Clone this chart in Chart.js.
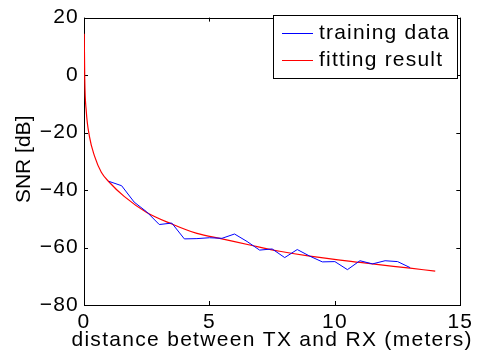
<!DOCTYPE html>
<html>
<head>
<meta charset="utf-8">
<script src="https://cdn.jsdelivr.net/npm/chart.js@4.4.0/dist/chart.umd.min.js"></script>
<style>
  html, body { margin: 0; padding: 0; background: #fff; }
  #wrap { width: 477px; height: 362px; }
</style>
</head>
<body>
<div id="wrap"><canvas id="snrChart" width="477" height="362"></canvas></div>
<script>
// Datos
const trainX = [1, 1.5, 2, 2.5, 3, 3.5, 4, 4.5, 5, 5.5, 6, 6.5, 7, 7.5, 8, 8.5, 9, 9.5, 10, 10.5, 11, 11.5, 12, 12.5, 13];
const trainSNR = [-37.0, -38.5, -44.2, -47.6, -52.0, -51.5, -57.0, -56.9, -56.6, -56.8, -55.3, -57.9, -60.9, -60.5, -63.5, -60.7, -63.0, -65.0, -64.9, -67.7, -64.6, -65.7, -64.6, -64.9, -67.0];

const fitX = [0.01, 0.03, 0.09, 0.22, 0.42, 0.69, 1.0, 1.6, 2.5, 3.5, 4.5, 5.5, 6.7, 7.8, 9.0, 11.0, 13.0, 14.0];
const fitSNR = [14.4, -1.3, -12.5, -21.5, -28.2, -33.8, -37.2, -42.2, -47.8, -51.8, -55.1, -57.0, -59.3, -61.3, -63.0, -65.2, -67.2, -68.2];

const xTicks = [0, 5, 10, 15];
const yTicks = [-80, -60, -40, -20, 0, 20];

const xTitle = 'distance between TX and RX (meters)';
const yTitle = 'SNR [dB]';

const FONT = 'Liberation Sans, Arial, Helvetica, sans-serif';
const FSIZE = 21;
const SPACING = '1.2px'; // el texto del original es más ancho que Arial

// Convertir a puntos {x, y}
const toPoints = (xs, ys) => xs.map((x, i) => ({ x: x, y: ys[i] }));

// Caja del área de trazado, marcas hacia dentro, títulos y leyenda estilo MATLAB
const matlabBox = {
    id: 'matlabBox',
    beforeDraw(chart) {
        chart.ctx.letterSpacing = SPACING;
    },
    beforeDatasetsDraw(chart) {
        const { ctx, chartArea: a, scales } = chart;
        ctx.save();
        ctx.strokeStyle = '#000';
        ctx.lineWidth = 1;
        ctx.strokeRect(Math.round(a.left) + 0.5, Math.round(a.top) + 0.5,
            Math.round(a.right - a.left), Math.round(a.bottom - a.top));

        const tl = 4;
        ctx.beginPath();
        xTicks.forEach(v => {
            const px = Math.round(scales.x.getPixelForValue(v)) + 0.5;
            ctx.moveTo(px, a.bottom); ctx.lineTo(px, a.bottom - tl);
            ctx.moveTo(px, a.top); ctx.lineTo(px, a.top + tl);
        });
        yTicks.forEach(v => {
            const py = Math.round(scales.y.getPixelForValue(v)) + 0.5;
            ctx.moveTo(a.left, py); ctx.lineTo(a.left + tl, py);
            ctx.moveTo(a.right, py); ctx.lineTo(a.right - tl, py);
        });
        ctx.stroke();

        ctx.fillStyle = '#000';
        ctx.font = FSIZE + 'px ' + FONT;
        ctx.textAlign = 'center';
        ctx.textBaseline = 'middle';

        // Título del eje X
        ctx.letterSpacing = '1.3px';
        ctx.fillText(xTitle, (a.left + a.right) / 2, 340);

        // Título del eje Y (vertical, sin espaciado extra)
        ctx.letterSpacing = '0px';
        ctx.translate(24, (a.top + a.bottom) / 2 - 2);
        ctx.rotate(-Math.PI / 2);
        ctx.fillText(yTitle, 0, 0);
        ctx.restore();
    },
    afterDraw(chart) {
        const { ctx } = chart;
        ctx.save();
        ctx.letterSpacing = SPACING;
        // Leyenda
        const lx = 273.5, ly = 15.5, lw = 184, lh = 63;
        ctx.lineWidth = 1;
        ctx.strokeStyle = '#000';
        ctx.fillStyle = '#fff';
        ctx.fillRect(lx, ly, lw, lh);
        ctx.strokeRect(lx, ly, lw, lh);
        ctx.font = FSIZE + 'px ' + FONT;
        ctx.textBaseline = 'middle';
        chart.data.datasets.forEach((ds, i) => {
            const y = 33 + i * 27;
            ctx.strokeStyle = ds.borderColor;
            ctx.beginPath();
            ctx.moveTo(282, y + 0.5); ctx.lineTo(313, y + 0.5);
            ctx.stroke();
            ctx.fillStyle = '#000';
            ctx.fillText(ds.label, 319, y);
        });
        ctx.restore();
    }
};

const ctx = document.getElementById('snrChart').getContext('2d');

let chart = new Chart(ctx, {
    type: 'line',
    data: {
        datasets: [{
            label: 'training data',
            data: toPoints(trainX, trainSNR),
            borderColor: '#0000ff',
            borderWidth: 1,
            pointRadius: 0,
            fill: false
        }, {
            label: 'fitting result',
            data: toPoints(fitX, fitSNR),
            borderColor: '#ff0000',
            borderWidth: 1.2,
            pointRadius: 0,
            cubicInterpolationMode: 'monotone',
            fill: false
        }]
    },
    options: {
        responsive: false,
        animation: false,
        layout: { padding: { top: 9, right: 15, left: 0, bottom: 0 } },
        plugins: {
            legend: { display: false },
            tooltip: { enabled: false }
        },
        scales: {
            x: {
                type: 'linear',
                min: 0,
                max: 15,
                grid: { display: false, drawTicks: false },
                border: { display: false },
                afterBuildTicks: s => { s.ticks = xTicks.map(v => ({ value: v })); },
                afterFit: s => { s.height = 57; },
                ticks: {
                    padding: 5,
                    color: '#000',
                    font: { family: FONT, size: FSIZE },
                    maxRotation: 0
                },
                title: { display: false }
            },
            y: {
                min: -80,
                max: 20,
                grid: { display: false, drawTicks: false },
                border: { display: false },
                afterBuildTicks: s => { s.ticks = yTicks.map(v => ({ value: v })); },
                afterFit: s => { s.width = 84; },
                ticks: {
                    padding: 5,
                    color: '#000',
                    font: { family: FONT, size: FSIZE },
                    callback: v => String(v).replace('-', '\u2212')
                },
                title: { display: false }
            }
        }
    },
    plugins: [matlabBox]
});
</script>
</body>
</html>
